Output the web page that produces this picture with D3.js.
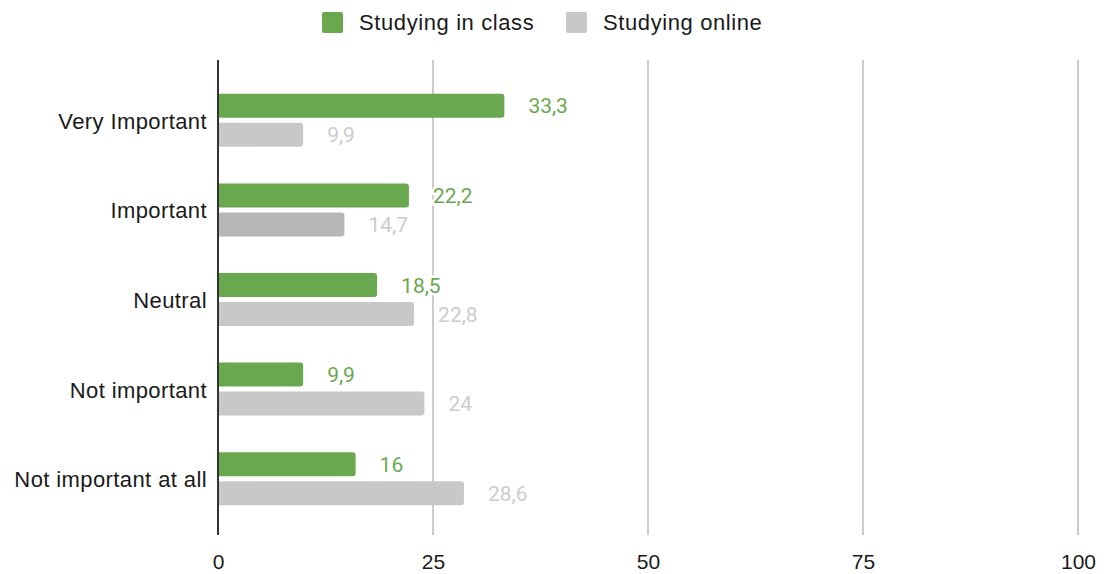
<!DOCTYPE html>
<html>
<head>
<meta charset="utf-8">
<script src="https://cdn.jsdelivr.net/npm/d3@7/dist/d3.min.js"></script>
<style>
  html, body { margin: 0; padding: 0; background: #fff; }
  svg { display: block; }
</style>
</head>
<body>
<svg id="chart" width="1107" height="574"></svg>
<script>
// Survey answers: share of respondents (%) per importance level
const categories = ["Very Important", "Important", "Neutral", "Not important", "Not important at all"];
const seriesNames = ["Studying in class", "Studying online"];
const inClass = [33.3, 22.2, 18.5, 9.9, 16];
const online = [9.9, 14.7, 22.8, 24, 28.6];
const tickValues = [0, 25, 50, 75, 100];

const colors = { "Studying in class": "#6aa84f", "Studying online": "#c8c8c8" };
const labelColors = { "Studying in class": "#6aa84f", "Studying online": "#cccccc" };
const highlighted = { category: "Important", series: "Studying online", color: "#b7b7b7" };

const rows = categories.map((c, i) => ({
  category: c,
  values: [
    { series: seriesNames[0], value: inClass[i] },
    { series: seriesNames[1], value: online[i] }
  ]
}));

const svg = d3.select("#chart");
const sansFont = "'Liberation Sans', Arial, sans-serif";
const valueFont = "Roboto, 'Noto Sans', sans-serif";
const textColor = "#1a1a1a";

const plotTop = 60, plotBottom = 535;
const x = d3.scaleLinear().domain([0, 100]).range([218, 1078]);
const y = d3.scaleBand().domain(categories).range([76, 524]);
const inner = d3.scaleBand().domain(seriesNames).range([0, 53]).paddingInner(0.172);

// vertical gridlines
svg.append("g")
  .selectAll("line")
  .data(tickValues.filter(t => t > 0))
  .join("line")
  .attr("x1", d => x(d)).attr("x2", d => x(d))
  .attr("y1", plotTop).attr("y2", plotBottom)
  .attr("stroke", "#cccccc")
  .attr("stroke-width", 2);

// bottom tick labels via d3 axis
const xAxis = svg.append("g")
  .attr("transform", `translate(0,${plotBottom})`)
  .call(d3.axisBottom(x).tickValues(tickValues).tickSize(0).tickPadding(19).tickFormat(d3.format("d")));
xAxis.select(".domain").remove();
xAxis.selectAll("text")
  .attr("font-family", sansFont)
  .attr("font-size", 21)
  .attr("fill", textColor);

// grouped bars with rounded right ends
function barPath(x0, y0, w, h, r) {
  r = Math.min(r, w);
  return `M${x0},${y0}H${x0 + w - r}Q${x0 + w},${y0} ${x0 + w},${y0 + r}` +
    `V${y0 + h - r}Q${x0 + w},${y0 + h} ${x0 + w - r},${y0 + h}H${x0}Z`;
}

const groups = svg.append("g")
  .selectAll("g")
  .data(rows)
  .join("g")
  .attr("transform", d => `translate(0,${y(d.category) + y.bandwidth() / 2 - 27})`);

groups.selectAll("path")
  .data(d => d.values.map(v => ({ ...v, category: d.category })))
  .join("path")
  .attr("d", d => barPath(x(0), inner(d.series), x(d.value) - x(0), inner.bandwidth(), 3))
  .attr("fill", d => (d.category === highlighted.category && d.series === highlighted.series)
    ? highlighted.color : colors[d.series]);

// value labels with white halo
groups.selectAll("text")
  .data(d => d.values)
  .join("text")
  .attr("x", d => x(d.value) + 24)
  .attr("y", d => inner(d.series) + inner.bandwidth() / 2)
  .attr("dy", "0.36em")
  .attr("font-family", valueFont)
  .attr("font-size", 21)
  .attr("fill", d => labelColors[d.series])
  .attr("stroke", "#fff")
  .attr("stroke-width", 5)
  .attr("paint-order", "stroke")
  .text(d => String(d.value).replace(".", ","));

// category labels
svg.append("g")
  .selectAll("text")
  .data(categories)
  .join("text")
  .attr("x", 207)
  .attr("y", d => y(d) + y.bandwidth() / 2)
  .attr("dy", "0.36em")
  .attr("text-anchor", "end")
  .attr("font-family", sansFont)
  .attr("font-size", 22)
  .attr("letter-spacing", 0.4)
  .attr("fill", textColor)
  .text(d => d);

// zero baseline
svg.append("line")
  .attr("x1", x(0)).attr("x2", x(0))
  .attr("y1", plotTop).attr("y2", plotBottom)
  .attr("stroke", "#333")
  .attr("stroke-width", 2);

// legend
const legendX = [322, 566];
const legend = svg.append("g")
  .selectAll("g")
  .data(seriesNames)
  .join("g")
  .attr("transform", (d, i) => `translate(${legendX[i]},12)`);
legend.append("rect")
  .attr("width", 21).attr("height", 21).attr("rx", 2)
  .attr("fill", d => colors[d]);
legend.append("text")
  .attr("x", 37).attr("y", 10.5).attr("dy", "0.36em")
  .attr("font-family", sansFont)
  .attr("font-size", 22)
  .attr("letter-spacing", 0.6)
  .attr("fill", textColor)
  .text(d => d);
</script>
</body>
</html>
